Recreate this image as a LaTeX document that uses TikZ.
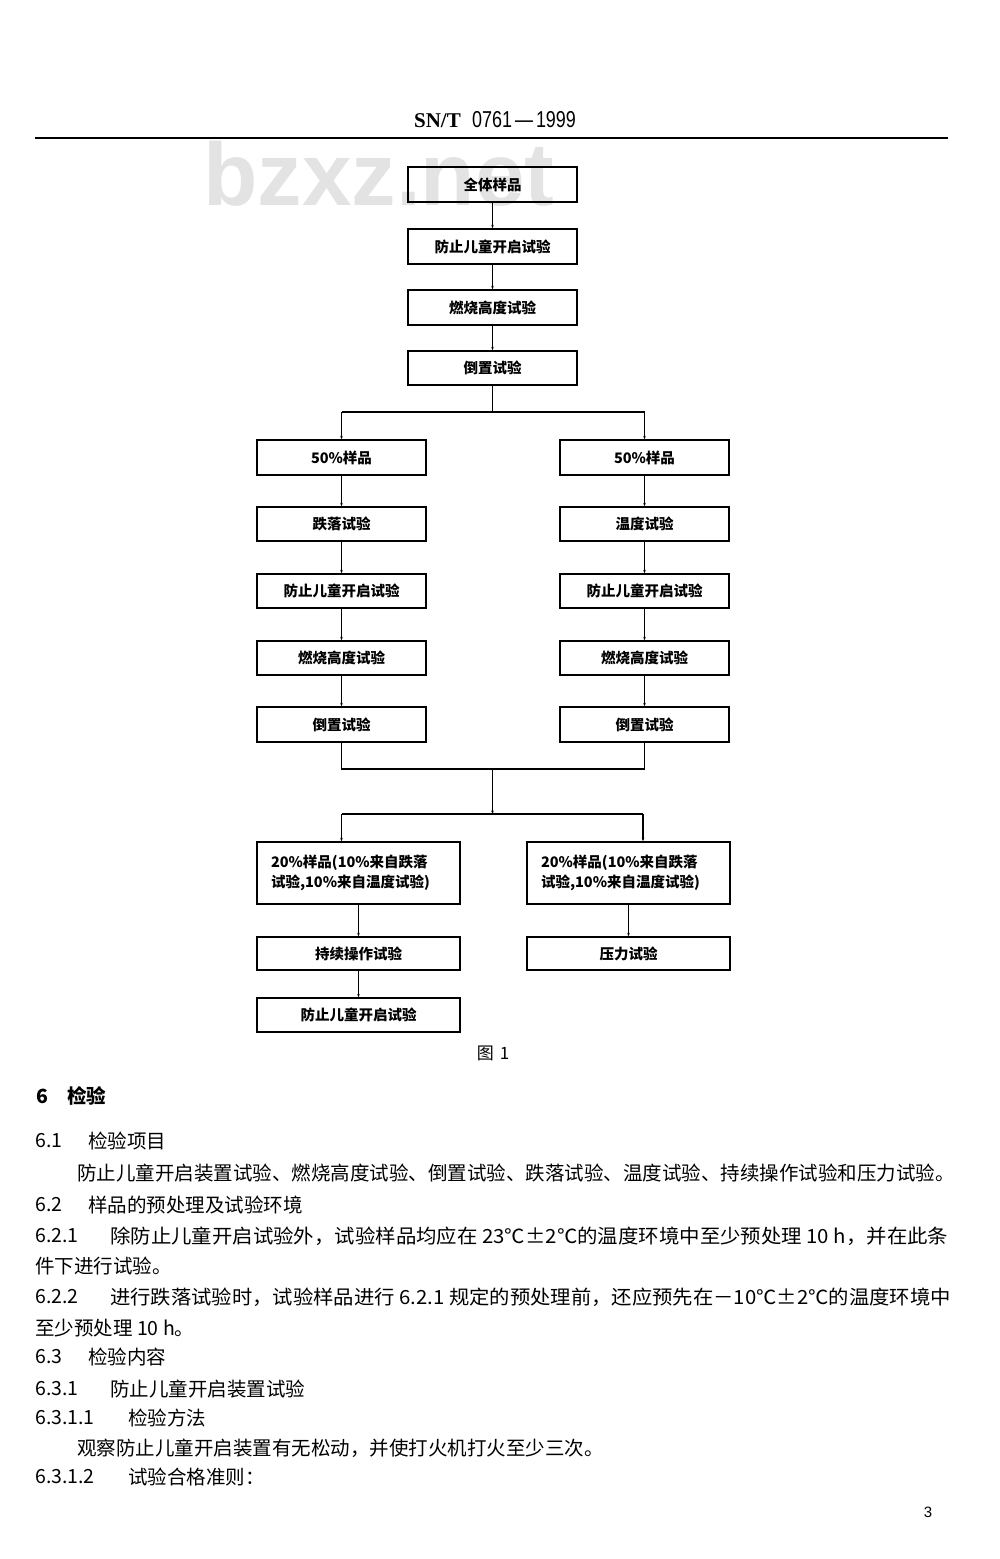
\documentclass[tikz,border=0pt]{standalone}
\usepackage{fontspec}
\usepackage{graphicx}
\usetikzlibrary{arrows.meta}
\newfontfamily\cjk{Noto Sans CJK SC}
\newfontfamily\hdserif{Liberation Serif}
\newfontfamily\hdsans{Liberation Sans}
\tikzset{
  box/.style={draw=black, line width=1.4pt, inner sep=0pt, minimum width=169pt, minimum height=35pt,
    font=\cjk\bfseries\fontsize{14.5}{17}\selectfont},
  wbox/.style={box, minimum width=203pt},
  conn/.style={line width=1.1pt},
  arr/.style={conn, -{Stealth[length=3.5pt,width=2.6pt]}},
  body/.style={anchor=west, inner sep=0pt, font=\cjk\fontsize{19.5}{22}\selectfont},
  num/.style={anchor=west, inner sep=0pt, font=\cjk\fontsize{19.5}{22}\selectfont},
}
\begin{document}
\begin{tikzpicture}[x=1pt,y=-1pt]
\useasboundingbox (0,0) rectangle (1000,1559);
\fill[white] (0,0) rectangle (1000,1559);
% watermark
\node[anchor=base west, inner sep=0pt, text=black!11, font=\hdsans\bfseries\fontsize{89}{89}\selectfont] (wm) at (203,205) {bzxz.net};
% header
\node[anchor=base east, inner sep=0pt, font=\hdserif\bfseries\fontsize{21}{22}\selectfont] (hd1) at (461,127) {SN/T};
\node[anchor=base west, inner sep=0pt, font=\hdsans\fontsize{23}{23}\selectfont] (hd2) at (472,127) {\scalebox{0.78}[1]{0761\,—\,1999}};
\draw[line width=1.7pt] (35,138) coordinate (r1) -- (948,138) coordinate (r2);
% top chain
\node[box] (n1) at (492.5,184.5) {全体样品};
\node[box] (n2) at (492.5,246.5) {防止儿童开启试验};
\node[box] (n3) at (492.5,307.5) {燃烧高度试验};
\node[box, minimum height=34pt] (n4) at (492.5,368) {倒置试验};
% left branch
\node[box] (L1) at (341.5,457.5) {50\%样品};
\node[box, minimum height=34pt] (L2) at (341.5,524) {跌落试验};
\node[box, minimum height=34pt] (L3) at (341.5,591) {防止儿童开启试验};
\node[box, minimum height=34pt] (L4) at (341.5,658) {燃烧高度试验};
\node[box] (L5) at (341.5,724.5) {倒置试验};
% right branch
\node[box] (R1) at (644.5,457.5) {50\%样品};
\node[box, minimum height=34pt] (R2) at (644.5,524) {温度试验};
\node[box, minimum height=34pt] (R3) at (644.5,591) {防止儿童开启试验};
\node[box, minimum height=34pt] (R4) at (644.5,658) {燃烧高度试验};
\node[box] (R5) at (644.5,724.5) {倒置试验};
% bottom
\node[wbox, minimum height=62pt, text width=175pt, align=left,
  font=\cjk\bfseries\fontsize{14.5}{20}\selectfont] (A1) at (358.5,873) {20\%样品(10\%来自跌落\\试验,10\%来自温度试验)};
\node[wbox, minimum height=62pt, text width=175pt, align=left,
  font=\cjk\bfseries\fontsize{14.5}{20}\selectfont] (B1) at (628.5,873) {20\%样品(10\%来自跌落\\试验,10\%来自温度试验)};
\node[wbox, minimum height=33pt] (A2) at (358.5,953.5) {持续操作试验};
\node[wbox, minimum height=33pt] (B2) at (628.5,953.5) {压力试验};
\node[wbox, minimum height=34pt] (A3) at (358.5,1015) {防止儿童开启试验};
% connectors top
\draw[arr] (n1) -- (n2);
\draw[arr] (n2) -- (n3);
\draw[arr] (n3) -- (n4);
\coordinate (t) at (492.5,412);
\coordinate (tL) at (341.5,412);
\coordinate (tR) at (644.5,412);
\draw[conn] (n4.south) -- (t);
\draw[conn] (tL) -- (tR);
\draw[arr] (tL) -- (L1.north);
\draw[arr] (tR) -- (R1.north);
\draw[arr] (L1) -- (L2);
\draw[arr] (L2) -- (L3);
\draw[arr] (L3) -- (L4);
\draw[arr] (L4) -- (L5);
\draw[arr] (R1) -- (R2);
\draw[arr] (R2) -- (R3);
\draw[arr] (R3) -- (R4);
\draw[arr] (R4) -- (R5);
% merge
\coordinate (jL) at (341.5,769);
\coordinate (jR) at (644.5,769);
\coordinate (jC) at (492.5,769);
\coordinate (sC) at (492.5,814);
\coordinate (sL) at (341.5,814);
\coordinate (sR) at (643,814);
\draw[conn] (L5.south) -- (jL) -- (jR) -- (R5.south);
\draw[arr] (jC) -- (sC);
\draw[conn] (sL) -- (sR);
\draw[arr] (sL) -- (sL |- A1.north);
\draw[arr] (sR) -- (sR |- B1.north);
\draw[arr] (A1) -- (A2);
\draw[arr] (A2) -- (A3);
\draw[arr] (B1) -- (B2);
% caption
\node[inner sep=0pt, font=\cjk\fontsize{17}{17}\selectfont] (cap) at (493,1053) {图\hspace{6pt}1};
% body text
\node[num, font=\cjk\bfseries\fontsize{19.5}{22}\selectfont] (s6n) at (36,1096) {6};
\node[body, font=\cjk\bfseries\fontsize{19.5}{22}\selectfont] (s6) at (67,1096) {检验};
\node[num] (s61n) at (35,1141) {6.1};
\node[body] (s61) at (88,1141) {检验项目};
\node[body] (p1) at (77,1173) {防止儿童开启装置试验、燃烧高度试验、倒置试验、跌落试验、温度试验、持续操作试验和压力试验。};
\node[num] (s62n) at (35,1205) {6.2};
\node[body] (s62) at (88,1205) {样品的预处理及试验环境};
\node[num] (s621n) at (35,1236) {6.2.1};
\node[body] (s621) at (110,1236) {\scalebox{1.047}[1]{除防止儿童开启试验外，试验样品均应在 23℃±2℃的温度环境中至少预处理 10 h，并在此条}};
\node[body] (s621b) at (35,1266) {件下进行试验。};
\node[num] (s622n) at (35,1297) {6.2.2};
\node[body] (s622) at (110,1297) {\scalebox{1.043}[1]{进行跌落试验时，试验样品进行 6.2.1 规定的预处理前，还应预先在－10℃±2℃的温度环境中}};
\node[body] (s622b) at (35,1328) {至少预处理 10 h。};
\node[num] (s63n) at (35,1357) {6.3};
\node[body] (s63) at (88,1357) {检验内容};
\node[num] (s631n) at (35,1389) {6.3.1};
\node[body] (s631) at (110,1389) {防止儿童开启装置试验};
\node[num] (s6311n) at (35,1418) {6.3.1.1};
\node[body] (s6311) at (128,1418) {检验方法};
\node[body] (p2) at (77,1448) {观察防止儿童开启装置有无松动，并使打火机打火至少三次。};
\node[num] (s6312n) at (35,1477) {6.3.1.2};
\node[body] (s6312) at (128,1477) {试验合格准则：};
\node[inner sep=0pt, font=\hdsans\fontsize{15}{15}\selectfont] (pg) at (928,1512) {3};
\end{tikzpicture}
\end{document}
